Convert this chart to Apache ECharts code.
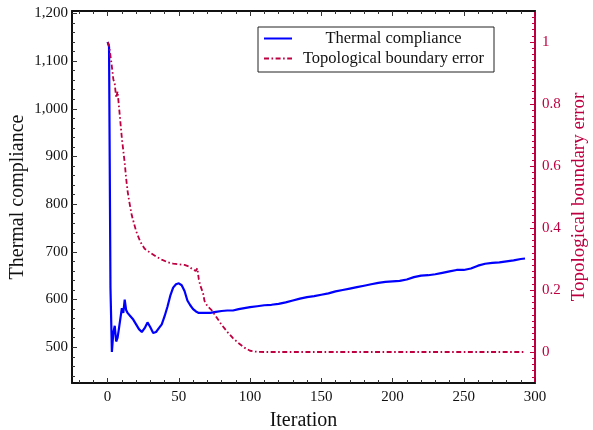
<!DOCTYPE html>
<html>
<head>
<meta charset="utf-8">
<script src="https://cdn.jsdelivr.net/npm/echarts@6/dist/echarts.min.js"></script>
<style>
html,body{margin:0;padding:0;background:#fff;}
#chart{width:593px;height:430px;}
</style>
</head>
<body>
<div id="chart"></div>
<script>
// ---- data ----
const complianceIter = [0,1,2,3,4,5,6,7,8,9,10,11,12,13,14,16,18,20,22,24,26,28,30,32,34,36,38,40,42,44,46,48,50,52,54,56,58,60,62,64,68,72,76,80,84,88,92,96,100,105,110,115,120,125,130,135,140,145,150,155,160,165,170,175,180,185,190,195,200,205,210,215,220,225,230,235,240,245,250,255,260,265,270,275,280,285,290,293];
const complianceVal = [1140,1130,625,490,530,545,512,520,540,538,582,572,600,578,572,565,558,548,538,532,540,552,542,530,532,540,548,565,585,608,625,632,634,630,618,598,588,580,575,572,572,572,574,576,577,577,580,582,584,586,588,589,591,594,598,602,605,607,610,613,617,620,623,626,629,632,635,637,638,639,642,647,650,651,653,656,659,662,662,665,671,675,677,678,680,682,685,686];

const errorIter = [0,1,2,3,4,5,6,7,8,9,10,11,12,13,14,15,17,20,23,26,30,34,38,42,46,50,54,57,60,62,63,64,65,67,68,70,73,76,80,84,88,92,96,100,104,110,150,200,250,293];
const errorVal = [1.0,0.99,0.955,0.92,0.88,0.865,0.82,0.84,0.79,0.74,0.69,0.65,0.61,0.56,0.52,0.49,0.44,0.39,0.355,0.333,0.32,0.308,0.298,0.29,0.285,0.283,0.281,0.276,0.265,0.262,0.27,0.235,0.215,0.19,0.165,0.148,0.135,0.115,0.088,0.065,0.045,0.028,0.014,0.004,0.001,0,0,0,0,0];

const seriesNames = ['Thermal compliance','Topological boundary error'];

// ---- ticks ----
const xMajorTicks = [0,50,100,150,200,250,300];
const xMinorTicks = [-20,-10,0,10,20,30,40,50,60,70,80,90,100,110,120,130,140,150,160,170,180,190,200,210,220,230,240,250,260,270,280,290,300];
const leftMajorTicks = [500,600,700,800,900,1000,1100,1200];
const leftMinorTicks = [440,460,480,500,520,540,560,580,600,620,640,660,680,700,720,740,760,780,800,820,840,860,880,900,920,940,960,980,1000,1020,1040,1060,1080,1100,1120,1140,1160,1180,1200];
const rightMajorTicks = [0,0.2,0.4,0.6,0.8,1];
const rightMinorTicks = [-0.08,-0.06,-0.04,-0.02,0,0.02,0.04,0.06,0.08,0.1,0.12,0.14,0.16,0.18,0.2,0.22,0.24,0.26,0.28,0.3,0.32,0.34,0.36,0.38,0.4,0.42,0.44,0.46,0.48,0.5,0.52,0.54,0.56,0.58,0.6,0.62,0.64,0.66,0.68,0.7,0.72,0.74,0.76,0.78,0.8,0.82,0.84,0.86,0.88,0.9,0.92,0.94,0.96,0.98,1,1.02,1.04,1.06,1.08];

const FONT = '"Liberation Serif", "DejaVu Serif", serif';
const BLUE = '#0000ff';
const PURPLE = '#bf0040';
const BLACK = '#111';

function pairs(xs, ys){ return xs.map((x,i)=>[x, ys[i]]); }

const X_MIN = -25, X_MAX = 300;
const L_MIN = 425, L_MAX = 1205;
const R_MIN = -0.1, R_MAX = 1.1;

function xAxisDef(pos, ticks, len, showLine, showLabel, name){
  return {
    type:'value', position:pos, min:X_MIN, max:X_MAX,
    name: name || '', nameLocation:'middle', nameGap:28, nameMoveOverlap:false,
    nameTextStyle:{fontFamily:FONT, fontSize:20, color:BLACK},
    splitLine:{show:false},
    axisLine:{show:showLine, onZero:false, lineStyle:{color:BLACK, width:2}},
    axisTick:{show:true, inside:true, length:len, customValues:ticks, lineStyle:{color:'#333', width:1}},
    axisLabel:{show:showLabel, customValues:xMajorTicks, margin:7, fontFamily:FONT, fontSize:15, color:BLACK}
  };
}
function yAxisDef(pos, min, max, ticks, labelTicks, len, showLine, showLabel, color, name, gap, fmt, nameSize){
  return {
    type:'value', position:pos, min:min, max:max,
    name: name || '', nameLocation:'middle', nameGap:gap, nameRotate:90, nameMoveOverlap:false,
    nameTextStyle:{fontFamily:FONT, fontSize:nameSize || 20, color:color},
    splitLine:{show:false},
    axisLine:{show:showLine, onZero:false, lineStyle:{color:color, width:2}},
    axisTick:{show:true, inside:true, length:len, customValues:ticks, lineStyle:{color:pos==='left'?'#333':color, width:1}},
    axisLabel:{show:showLabel, customValues:labelTicks, margin:pos==='left'?4:7, fontFamily:FONT, fontSize:15, color:color, formatter:fmt}
  };
}

const leftFmt = v => Math.round(v).toLocaleString('en-US');
const rightFmt = v => String(Math.round(v*10)/10);

const chart = echarts.init(document.getElementById('chart'), null, {renderer:'canvas'});
chart.setOption({
  animation:false,
  backgroundColor:'#fff',
  grid:{left:72, right:58, top:11, bottom:47, containLabel:false, outerBoundsMode:'none'},
  legend:{
    left:258, top:27, orient:'vertical',
    itemWidth:28, itemHeight:12, itemGap:3,
    padding:[3,4,5,5],
    borderColor:'#222', borderWidth:1, backgroundColor:'#fff',
    data: seriesNames,
    itemStyle:{opacity:0},
    formatter: n => '{c|' + n + '}',
    textStyle:{fontFamily:FONT, fontSize:16.5, color:BLACK,
      rich:{c:{width:193, align:'center', lineHeight:16, fontFamily:FONT, fontSize:16.5, color:BLACK}}}
  },
  xAxis:[
    xAxisDef('bottom', xMajorTicks, 5, true, true, 'Iteration'),
    xAxisDef('bottom', xMinorTicks, 3, false, false),
    xAxisDef('top', xMajorTicks, 5, true, false),
    xAxisDef('top', xMinorTicks, 3, false, false)
  ],
  yAxis:[
    yAxisDef('left', L_MIN, L_MAX, leftMajorTicks, leftMajorTicks, 5, true, true, BLACK, 'Thermal compliance', 44, leftFmt, 20),
    yAxisDef('left', L_MIN, L_MAX, leftMinorTicks, leftMajorTicks, 3, false, false, BLACK, '', 0, leftFmt),
    yAxisDef('right', R_MIN, R_MAX, rightMajorTicks, rightMajorTicks, 5, true, true, PURPLE, 'Topological boundary error', 35, rightFmt, 19),
    yAxisDef('right', R_MIN, R_MAX, rightMinorTicks, rightMajorTicks, 3, false, false, PURPLE, '', 0, rightFmt)
  ],
  series:[
    {
      name:seriesNames[0], type:'line', xAxisIndex:0, yAxisIndex:0,
      data:pairs(complianceIter, complianceVal),
      symbol:'none', smooth:false,
      lineStyle:{color:BLUE, width:2.2},
      itemStyle:{color:BLUE}, z:3
    },
    {
      name:seriesNames[1], type:'line', xAxisIndex:0, yAxisIndex:2,
      data:pairs(errorIter, errorVal),
      symbol:'none', smooth:false,
      lineStyle:{color:PURPLE, width:1.8, type:[5,2.5,1.6,2.5]},
      itemStyle:{color:PURPLE}, z:4
    }
  ]
});
</script>
</body>
</html>
